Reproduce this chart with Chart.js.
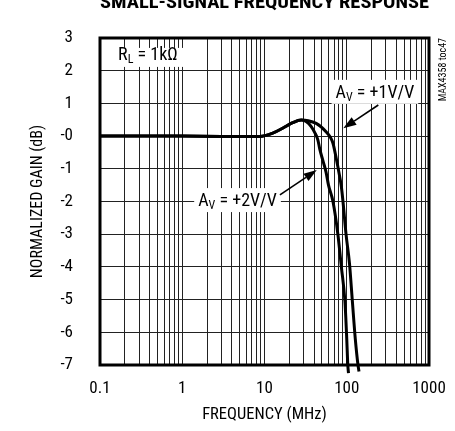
<!DOCTYPE html>
<html><head><meta charset="utf-8">
<script src="https://cdn.jsdelivr.net/npm/chart.js@4/dist/chart.umd.min.js"></script>
<style>html,body{margin:0;padding:0;background:#fff}canvas{display:block}</style>
</head><body><canvas id="c" width="455" height="431"></canvas>
<script>
// ---- data ----
const chartTitle = 'SMALL-SIGNAL FREQUENCY RESPONSE';
const xAxisTitle = 'FREQUENCY (MHz)';
const yAxisTitle = 'NORMALIZED GAIN (dB)';
const sideNote = 'MAX4358 toc47';
const xTickValues = [0.1, 1, 10, 100, 1000];
const xTickLabels = ['0.1', '1', '10', '100', '1000'];
const yTickValues = [3, 2, 1, 0, -1, -2, -3, -4, -5, -6, -7];
const yTickLabels = ['3', '2', '1', '-0', '-1', '-2', '-3', '-4', '-5', '-6', '-7'];

const freqAv1 = [0.1, 1, 3, 6, 8.7, 12.6, 16.6, 22, 28, 34, 42.5, 50, 56, 63, 68, 71, 78, 86, 90, 98, 108, 117, 127, 137, 141];
const gainAv1 = [0, 0, -0.01, -0.01, -0.01, 0.09, 0.24, 0.41, 0.49, 0.47, 0.39, 0.26, 0.13, -0.03, -0.22, -0.42, -0.94, -1.55, -2.0, -3.0, -3.9, -5.05, -6.2, -7.0, -7.2];

const freqAv2 = [0.1, 1, 3, 6, 8.7, 12.6, 16.6, 22, 28, 32.4, 37, 41, 44.6, 47, 51, 56, 60, 68, 78, 86, 95, 100, 103, 105];
const gainAv2 = [0, 0, -0.01, -0.01, -0.01, 0.09, 0.24, 0.41, 0.49, 0.44, 0.29, 0.1, -0.12, -0.4, -0.73, -1.1, -1.5, -2.0, -3.0, -4.0, -5.05, -6.2, -7.0, -7.25];

// annotation text and anchor points (data coordinates)
const noteRL = {main: 'R', sub: 'L', rest: ' = 1k\u03A9', f: 0.166, g: 2.33};
const noteAv1 = {main: 'A', sub: 'V', rest: ' = +1V/V', f: 220, g: 1.17, tail: [242, 0.95], tip: [90.8, 0.24]};
const noteAv2 = {main: 'A', sub: 'V', rest: ' = +2V/V', f: 4.7, g: -2.14, tail: [15.4, -1.8], tip: [43.2, -1.04]};

// ---- styling ----
const NARROW = "'Roboto Condensed', 'DejaVu Sans Condensed', sans-serif";
const gridX = [];
for (let e = -1; e < 3; e++) for (let m = 1; m < 10; m++) gridX.push(Number((m * Math.pow(10, e)).toPrecision(3)));
gridX.push(1000);

function pts(fs, gs) { return fs.map((f, i) => ({x: f, y: gs[i]})); }

function measureRich(ctx, n) {
  ctx.font = '18px ' + NARROW; const w1 = ctx.measureText(n.main).width;
  ctx.font = '12px ' + NARROW; const w2 = ctx.measureText(n.sub).width;
  ctx.font = '18px ' + NARROW; const w3 = ctx.measureText(n.rest).width;
  return [w1, w2, w3];
}
function drawRich(ctx, n, cx, baseline, align) {
  const [w1, w2, w3] = measureRich(ctx, n);
  const total = w1 + w2 + w3;
  const x = align === 'center' ? cx - total / 2 : cx;
  ctx.textAlign = 'left'; ctx.textBaseline = 'alphabetic'; ctx.fillStyle = '#000';
  ctx.font = '18px ' + NARROW; ctx.fillText(n.main, x, baseline);
  ctx.font = '12px ' + NARROW; ctx.fillText(n.sub, x + w1, baseline + 3);
  ctx.font = '18px ' + NARROW; ctx.fillText(n.rest, x + w1 + w2, baseline);
}

function arrow(ctx, x0, y0, x1, y1) {
  const a = Math.atan2(y1 - y0, x1 - x0), L = 13, W = 4.5;
  const bx = x1 - L * Math.cos(a), by = y1 - L * Math.sin(a);
  ctx.strokeStyle = '#000'; ctx.lineWidth = 1.6;
  ctx.beginPath(); ctx.moveTo(x0, y0); ctx.lineTo(bx, by); ctx.stroke();
  ctx.fillStyle = '#000';
  ctx.beginPath(); ctx.moveTo(x1, y1);
  ctx.lineTo(bx + W * Math.sin(a), by - W * Math.cos(a));
  ctx.lineTo(bx - W * Math.sin(a), by + W * Math.cos(a));
  ctx.closePath(); ctx.fill();
}

const decor = {
  id: 'decor',
  afterDatasetsDraw(chart) {
    const {ctx, chartArea: ca, scales: {x, y}} = chart;
    ctx.save();
    // R_L label
    let px = x.getPixelForValue(noteRL.f), py = y.getPixelForValue(noteRL.g);
    ctx.fillStyle = '#fff'; ctx.fillRect(ca.left + 1, py - 12, 85, 19);
    drawRich(ctx, noteRL, px, py, 'left');
    // gain labels with arrows
    for (const n of [noteAv1, noteAv2]) {
      px = x.getPixelForValue(n.f); py = y.getPixelForValue(n.g);
      const tw = measureRich(ctx, n).reduce((a, b) => a + b, 0);
      ctx.fillStyle = '#fff'; ctx.fillRect(px - tw / 2 - 4, py - 18, tw + 8, 24);
      drawRich(ctx, n, px, py, 'center');
      arrow(ctx, x.getPixelForValue(n.tail[0]), y.getPixelForValue(n.tail[1]),
                 x.getPixelForValue(n.tip[0]), y.getPixelForValue(n.tip[1]));
    }
    // frame
    ctx.strokeStyle = '#000'; ctx.lineWidth = 3;
    ctx.strokeRect(ca.left, ca.top, ca.right - ca.left, ca.bottom - ca.top);
    // title (condensed bold, partly cropped at top)
    ctx.font = "bold 18px 'Roboto Condensed', sans-serif";
    const tw = ctx.measureText(chartTitle).width;
    ctx.translate(ca.left, 8);
    ctx.scale((ca.right - ca.left) / tw, 1);
    ctx.fillStyle = '#000'; ctx.textAlign = 'left'; ctx.textBaseline = 'alphabetic';
    ctx.fillText(chartTitle, 0, 0);
    ctx.restore();
    // side note
    ctx.save();
    ctx.translate(ca.right + 14, ca.top);
    ctx.rotate(-Math.PI / 2);
    ctx.font = '10px ' + NARROW; ctx.fillStyle = '#000';
    ctx.textAlign = 'right'; ctx.textBaseline = 'middle';
    ctx.fillText(sideNote, 0, 0);
    ctx.restore();
  }
};

new Chart(document.getElementById('c'), {
  type: 'line',
  data: {
    datasets: [
      {label: 'AV = +1V/V', data: pts(freqAv1, gainAv1), borderColor: '#000', borderWidth: 3, pointRadius: 0,
       cubicInterpolationMode: 'monotone', clip: {left: 0, top: 0, right: 0, bottom: 10}},
      {label: 'AV = +2V/V', data: pts(freqAv2, gainAv2), borderColor: '#000', borderWidth: 3, pointRadius: 0,
       cubicInterpolationMode: 'monotone', clip: {left: 0, top: 0, right: 0, bottom: 10}}
    ]
  },
  options: {
    responsive: false, animation: false, devicePixelRatio: 1,
    layout: {padding: {top: 38, right: 26, left: 0, bottom: 0}},
    plugins: {legend: {display: false}, tooltip: {enabled: false}},
    scales: {
      x: {
        type: 'logarithmic', min: 0.1, max: 1000,
        afterBuildTicks(s) { s.ticks = gridX.map(v => ({value: v})); },
        afterFit(s) { s.height = 66; },
        grid: {color: '#222', lineWidth: 1, drawTicks: true, tickLength: 14, tickColor: 'rgba(0,0,0,0)'},
        border: {display: false},
        ticks: {autoSkip: false, maxRotation: 0, padding: 0, color: '#000', font: {family: NARROW, size: 17},
          callback(v) { const i = xTickValues.findIndex(t => Math.abs(t - v) < 1e-9); return i >= 0 ? xTickLabels[i] : ''; }},
        title: {display: true, text: xAxisTitle, color: '#000', font: {family: NARROW, size: 16.5}, padding: {top: 0, bottom: 6}}
      },
      y: {
        min: -7, max: 3,
        afterBuildTicks(s) { s.ticks = yTickValues.map(v => ({value: v})); },
        afterFit(s) { s.width = 100; },
        grid: {color: '#222', lineWidth: 1, drawTicks: true, tickLength: 27, tickColor: 'rgba(0,0,0,0)'},
        border: {display: false},
        ticks: {padding: 0, color: '#000', font: {family: NARROW, size: 17},
          callback(v) { const i = yTickValues.indexOf(v); return i >= 0 ? yTickLabels[i] : ''; }},
        title: {display: true, text: yAxisTitle, color: '#000', font: {family: NARROW, size: 16}, padding: {top: 28, bottom: 0}}
      }
    }
  },
  plugins: [decor]
});
</script></body></html>
